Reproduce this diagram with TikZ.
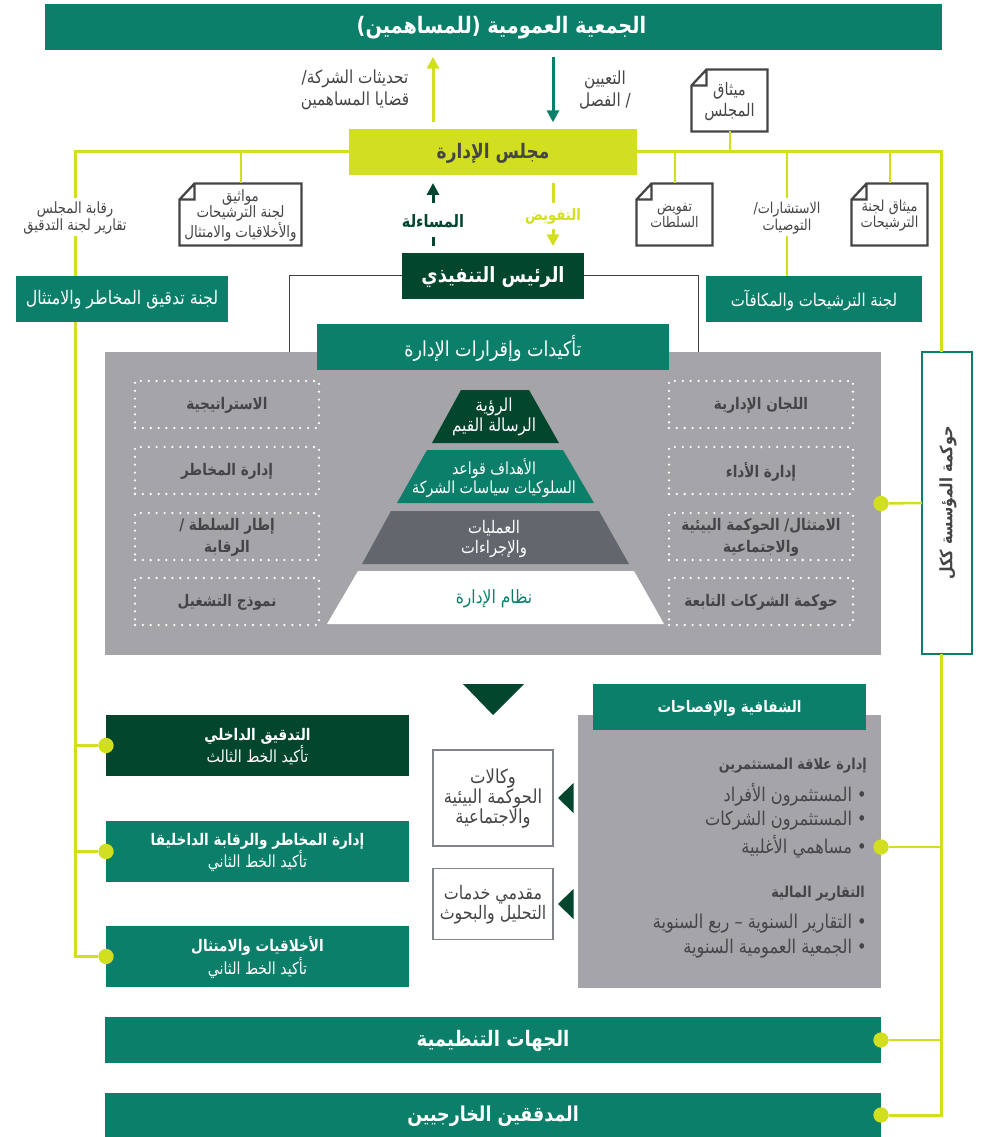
\documentclass[tikz,border=0pt]{standalone}
\usepackage{fontspec}
\usetikzlibrary{positioning}
\usetikzlibrary{calc}
\usetikzlibrary{arrows.meta}
\TeXXeTstate=1
\newfontfamily\arabicfont[Script=Arabic,FakeStretch=0.85]{DejaVu Sans}
\newcommand{\artext}[1]{\raisebox{-0.7pt}[\height][\depth]{\beginR #1\endR}}
\newcommand{\subline}[1]{{\mdseries\fontsize{12.5}{15}\selectfont\artext{#1}}}
\definecolor{teal1}{HTML}{0B7F6A}
\definecolor{lime1}{HTML}{D2DF20}
\definecolor{dark1}{HTML}{03462E}
\definecolor{panel1}{HTML}{A5A4A8}
\definecolor{slate1}{HTML}{62676D}
\definecolor{ink1}{HTML}{454547}
\tikzset{sz/.style 2 args={minimum width=#1*0.75pt,minimum height=#2*0.75pt,inner sep=0pt,outer sep=0pt,align=center}}
\tikzset{txt/.style 2 args={font=\arabicfont\fontsize{#1}{#2}\selectfont}}
\tikzset{btxt/.style 2 args={font=\arabicfont\bfseries\fontsize{#1}{#2}\selectfont}}
\tikzset{rail/.style={draw=lime1,line width=2.25pt}}
\tikzset{branch/.style={draw=lime1,line width=1.5pt}}
\tikzset{frameline/.style={draw=black!75,line width=0.75pt}}
\tikzset{dot/.style={circle,fill=lime1,minimum size=11.5pt,inner sep=0pt}}
\tikzset{dotbox/.style={draw=white,line width=1.9pt,dash pattern=on 0pt off 5.9pt,line cap=round,text=ink1}}
\tikzset{docbox/.style={text=ink1,align=center}}
\tikzset{docline/.style={draw=ink1,line width=1.7pt,fill=white}}
\tikzset{gap/.style={fill=white,text=ink1,align=center,inner sep=0pt}}
\tikzset{flow/.style={line width=2.25pt,-{Triangle[width=9pt,length=9pt]}}}
\tikzset{tip/.style={fill=dark1}}
\tikzset{listline/.style={anchor=east,inner sep=0pt,text=ink1}}

\begin{document}
\begin{tikzpicture}[x=0.75pt,y=-0.75pt]
        \useasboundingbox (0,0) rectangle (981,1137);
        \coordinate (upcol) at (433,0);
        \coordinate (downcol) at (553,0);
        \coordinate (leftrail) at (75,152);
        \coordinate (rightrail) at (941,152);
        \node[sz={897}{46},fill=teal1,text=white,btxt={17}{21}] (General) at (493.5,27) {\hspace*{12pt}\artext{الجمعية العمومية (للمساهمين)}};
        \node[sz={288}{46},fill=lime1,text=ink1,btxt={15}{19}] (Board) at (493,152) {\artext{مجلس الإدارة}};
        \node[sz={212}{46},fill=teal1,text=white,txt={14}{18}] (RiskCom) at (122,299) {\artext{لجنة تدقيق المخاطر والامتثال}};
        \node[sz={216}{46},fill=teal1,text=white,txt={13.2}{17}] (NomCom) at (814,299) {\artext{لجنة الترشيحات والمكافآت}};
        \node[sz={776}{303},fill=panel1] (Panel) at (493,503.5) {};
        \coordinate (frameL) at (289,352);
        \coordinate (frameR) at (698,352);
        \node[sz={182}{46},fill=dark1,text=white,btxt={15.7}{19}] (CEO) at (493,276) {\artext{الرئيس التنفيذي}};
        \draw[frameline] (CEO.west) -| (frameL);
        \draw[frameline] (CEO.east) -| (frameR);
        \node[sz={352}{46},fill=teal1,text=white,txt={15.5}{19}] (Assure) at (493,347) {\artext{تأكيدات وإقرارات الإدارة}};
        \node[sz={50}{302},draw=teal1,line width=0.9pt,fill=white,text=ink1] (Group) at (947,503) {};
        \node[rotate=90,text=ink1,btxt={12.8}{16}] (GroupText) at (Group.center) {\artext{حوكمة المؤسسة ككل}};

        % rails
        \draw[rail] (Board.west) -- (leftrail) -- (leftrail |- RiskCom.north);
        \draw[rail] (Board.east) -- (rightrail) -- (rightrail |- Group.north);

        % documents
        \node[sz={76}{62},docbox] (DocBoard) at (729.5,100.5) {};
        \node[sz={122}{62},docbox] (DocEthics) at (240.5,214.5) {};
        \node[sz={76}{62},docbox] (DocPower) at (674.5,214.5) {};
        \node[sz={76}{62},docbox] (DocNom) at (889.5,214.5) {};
        \foreach \d in {DocBoard,DocEthics,DocPower,DocNom}
            \draw[docline] ($(\d.north west)+(15,0)$) coordinate (f\d) -- (\d.north east) -- (\d.south east) -- (\d.south west) -- ($(\d.north west)+(0,16)$) coordinate (g\d) -- cycle
                (f\d) -- (f\d |- g\d) -- (g\d);
        \node[docbox,txt={13}{16}] at (DocBoard) {\artext{ميثاق}\\\artext{المجلس}};
        \node[docbox,txt={11.8}{12.5}] at (DocEthics) {\artext{مواثيق}\\\artext{لجنة الترشيحات}\\\artext{والأخلاقيات والامتثال}};
        \node[docbox,txt={11}{12.5}] at (DocPower) {\artext{تفويض}\\\artext{السلطات}};
        \node[docbox,txt={11.4}{12.5}] at (DocNom) {\artext{ميثاق لجنة}\\\artext{الترشيحات}};
        \draw[branch] (DocBoard.south) -- (DocBoard.south |- Board.east);
        \draw[branch] (Board.west -| DocEthics.north) -- (DocEthics.north);
        \draw[branch] (Board.east -| DocPower.north) -- (DocPower.north);
        \draw[branch] (Board.east -| DocNom.north) -- (DocNom.north);
        \draw[branch] (Board.east -| 787,0) -- (787,0 |- NomCom.north);

        % flows
        \draw[flow,lime1,shorten <=5pt,shorten >=5pt] (upcol |- Board.north) -- (upcol |- General.south);
        \draw[flow,teal1,shorten <=5pt,shorten >=5pt] (downcol |- General.south) -- (downcol |- Board.north);
        \draw[flow,dark1,shorten <=5pt,shorten >=6pt] (upcol |- CEO.north) -- (upcol |- Board.south);
        \draw[flow,lime1,shorten <=6pt,shorten >=5pt] (downcol |- Board.south) -- (downcol |- CEO.north);
        \node[gap,text=dark1,btxt={12.8}{15},minimum height=25pt] (Account) at (433,220) {\artext{المساءلة}};
        \node[gap,text=lime1,btxt={11.7}{15},minimum height=19pt] (Deleg) at (553,216) {\artext{التفويض}};
        \node[gap,txt={13.5}{16}] (Updates) at (355,89) {\artext{تحديثات الشركة/}\\\artext{قضايا المساهمين}};
        \node[gap,txt={13.5}{16}] (Appoint) at (605,89) {\artext{التعيين}\\\artext{/ الفصل}};
        \node[gap,txt={11.6}{12.5},minimum height=29pt] (Oversight) at (75,217) {\artext{رقابة المجلس}\\\artext{تقارير لجنة التدقيق}};
        \node[gap,txt={11.3}{12.5},minimum height=29pt] (Advice) at (787,217) {\artext{الاستشارات/}\\\artext{التوصيات}};

        % panel side lists
        \node[sz={184}{47},dotbox,btxt={12}{16}] (R1) at (761,404.5) {\artext{اللجان الإدارية}};
        \node[sz={184}{47},dotbox,btxt={12}{16}] (R2) at (761,470.5) {\artext{إدارة الأداء}};
        \node[sz={184}{47},dotbox,btxt={12}{16}] (R3) at (761,536.5) {\artext{الامتثال/ الحوكمة البيئية}\\\artext{والاجتماعية}};
        \node[sz={184}{47},dotbox,btxt={12}{16}] (R4) at (761,601.5) {\artext{حوكمة الشركات التابعة}};
        \node[sz={184}{47},dotbox,btxt={12}{16}] (L1) at (227,404.5) {\artext{الاستراتيجية}};
        \node[sz={184}{47},dotbox,btxt={12}{16}] (L2) at (227,470.5) {\artext{إدارة المخاطر}};
        \node[sz={184}{47},dotbox,btxt={12}{16}] (L3) at (227,536.5) {\artext{إطار السلطة /}\\\artext{الرقابة}};
        \node[sz={184}{47},dotbox,btxt={12}{16}] (L4) at (227,601.5) {\artext{نموذج التشغيل}};

        % pyramid
        \fill[dark1] (461,390) -- (529,390) -- (559,443) -- (432,443) -- cycle;
        \fill[teal1] (427,450) -- (563,450) -- (594,503) -- (397,503) -- cycle;
        \fill[slate1] (391,511) -- (599,511) -- (629,564) -- (362,564) -- cycle;
        \fill[white] (358,571) -- (634,571) -- (664,624) -- (327,624) -- cycle;
        \node[align=center,text=white,txt={13.5}{14.5}] (Tier1) at (494,416) {\artext{الرؤية}\\\artext{الرسالة القيم}};
        \node[align=center,text=white,txt={12.5}{14.5}] (Tier2) at (494,477) {\artext{الأهداف قواعد}\\\artext{السلوكيات سياسات الشركة}};
        \node[align=center,text=white,txt={13}{14.5}] (Tier3) at (494,538) {\artext{العمليات}\\\artext{والإجراءات}};
        \node[align=center,text=teal1,txt={13.7}{14.5}] (Tier4) at (494,598) {\artext{نظام الإدارة}};
        \fill[dark1] (463,684) -- (524,684) -- (493,715) -- cycle;

        % disclosure block
        \node[sz={303}{273},fill=panel1] (Disc) at (729.5,851.5) {};
        \node[sz={273}{46},fill=teal1,text=white,btxt={11.9}{14}] (DiscHead) at (729.5,707) {\artext{الشفافية والإفصاحات}};
        \node[listline,btxt={11.3}{14}] (IR) at (867,765) {\artext{إدارة علاقة المستثمرين}};
        \node[listline,txt={14.3}{16}] (IR1) at (867,794) {\artext{• المستثمرون الأفراد}};
        \node[listline,txt={14.3}{16}] (IR2) at (867,820) {\artext{• المستثمرون الشركات}};
        \node[listline,txt={14.3}{16}] (IR3) at (867,846) {\artext{• مساهمي الأغلبية}};
        \node[listline,btxt={11.3}{14}] (Fin) at (865,893) {\artext{التقارير المالية}};
        \node[listline,txt={14.3}{16}] (Fin1) at (867,923) {\artext{• التقارير السنوية – ربع السنوية}};
        \node[listline,txt={14.3}{16}] (Fin2) at (867,948) {\artext{• الجمعية العمومية السنوية}};
        \node[sz={120}{96},draw=slate1!80,line width=1pt,text=ink1,txt={14.5}{15}] (ESG) at (493,798) {\artext{وكالات}\\\artext{الحوكمة البيئية}\\\artext{والاجتماعية}};
        \node[sz={120}{71},draw=slate1!80,line width=1pt,text=ink1,txt={14}{15}] (Research) at (493,904) {\artext{مقدمي خدمات}\\\artext{التحليل والبحوث}};
        \fill[tip] (558,798) -- (573.5,783) -- (573.5,813) -- cycle;
        \fill[tip] (558,904) -- (573.5,889) -- (573.5,919) -- cycle;

        % lines of defence
        \node[sz={303}{61},fill=dark1,text=white,btxt={12}{15}] (Audit) at (257.5,745.5) {\artext{التدقيق الداخلي}\\\subline{تأكيد الخط الثالث}};
        \node[sz={303}{61},fill=teal1,text=white,btxt={12}{15}] (Control) at (257.5,851.5) {\artext{إدارة المخاطر والرقابة الداخليقا}\\\subline{تأكيد الخط الثاني}};
        \node[sz={303}{61},fill=teal1,text=white,btxt={12}{15}] (Ethics) at (257.5,956.5) {\artext{الأخلاقيات والامتثال}\\\subline{تأكيد الخط الثاني}};
        \node[sz={776}{46},fill=teal1,text=white,btxt={16}{19}] (Regs) at (493,1040) {\artext{الجهات التنظيمية}};
        \node[sz={776}{44},fill=teal1,text=white,btxt={15.4}{19}] (Ext) at (493,1115) {\artext{المدققين الخارجيين}};

        \node[dot] (d1) at (Audit.west) {};
        \node[dot] (d2) at (Control.west) {};
        \node[dot] (d3) at (Ethics.west) {};
        \node[dot] (d4) at (Regs.east) {};
        \node[dot] (d5) at (Ext.east) {};
        \node[dot] (d6) at (881,847) {};
        \node[dot] (d7) at (Panel.east) {};
        \draw[rail] (leftrail |- RiskCom.south) -- (leftrail |- d3) -- (d3);
        \draw[rail,line width=1.9pt] (leftrail |- d1) -- (d1);
        \draw[rail,line width=1.9pt] (leftrail |- d2) -- (d2);
        \draw[rail] (rightrail |- Group.south) -- (rightrail |- d5) -- (d5);
        \draw[rail,line width=1.9pt] (rightrail |- d4) -- (d4);
        \draw[rail,line width=1.9pt] (rightrail |- d6) -- (d6);
        \draw[rail,line width=1.9pt] (Group.west) -- (d7);
\end{tikzpicture}
\end{document}
